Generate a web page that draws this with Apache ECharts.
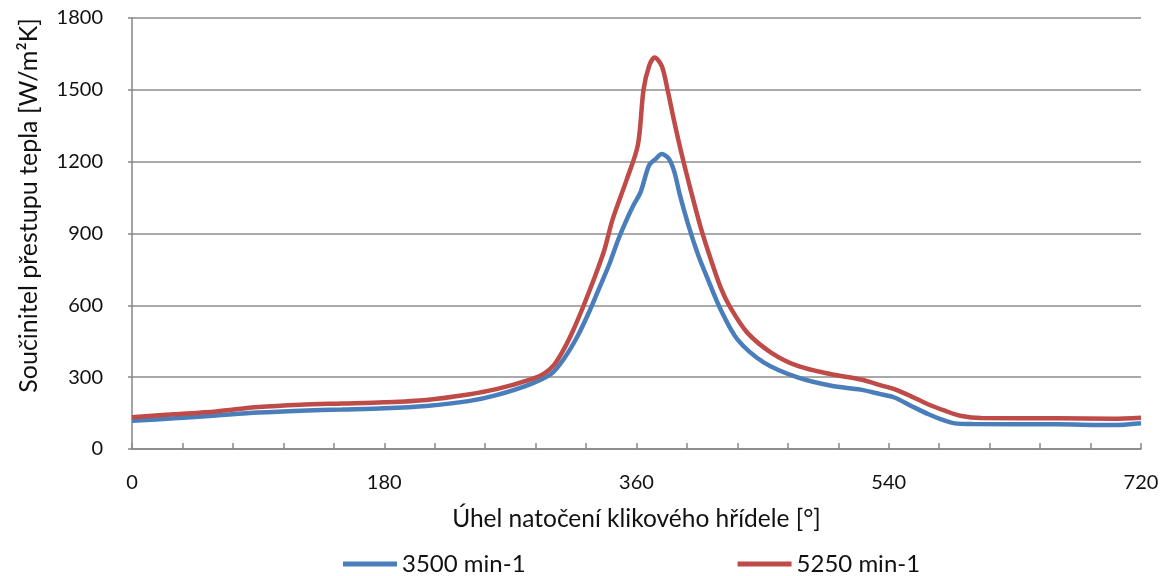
<!DOCTYPE html>
<html>
<head>
<meta charset="utf-8">
<script src="https://cdn.jsdelivr.net/npm/echarts@6/dist/echarts.min.js"></script>
<style>
    html, body {margin: 0; padding: 0; background: #fff;}
    #chart {width: 1165px; height: 576px;}
</style>
</head>
<body>
<div id="chart"></div>
<script>
/* Crank angle [deg] and heat transfer coefficient [W/m2K]. */
var blueAngles = [0, 30, 60, 90, 120, 150, 180, 210, 240, 260, 284, 299, 308, 318, 327, 334, 341, 347, 353, 358, 363, 369, 374, 378, 383, 387, 391, 397, 404, 410, 420, 432, 451, 475, 499, 520, 534, 544, 556, 568, 580, 587, 600, 660, 700, 720];
var blueValues = [118, 128, 140, 152, 160, 165, 170, 180, 200, 225, 270, 313, 375, 472, 583, 680, 778, 875, 958, 1020, 1074, 1185, 1213, 1232, 1213, 1157, 1060, 935, 810, 722, 583, 458, 361, 299, 264, 248, 229, 215, 180, 146, 118, 107, 104, 103, 100, 108];

var redAngles = [0, 30, 60, 90, 120, 150, 180, 210, 240, 260, 284, 294, 301, 308, 315, 322, 330, 337, 343, 353, 361, 365, 369, 373, 378, 382, 387, 393, 399, 406, 412, 420, 427, 439, 456, 475, 499, 520, 535, 544, 556, 568, 580, 591, 606, 660, 700, 720];
var redValues = [133, 145, 157, 175, 185, 190, 195, 205, 228, 250, 290, 315, 350, 415, 498, 595, 715, 830, 960, 1125, 1270, 1500, 1600, 1635, 1600, 1505, 1366, 1213, 1074, 921, 810, 675, 590, 486, 403, 347, 312, 290, 265, 250, 220, 187, 160, 139, 129, 128, 126, 130];

var seriesNames = ['3500 min-1', '5250 min-1'];
var seriesColors = ['#4a7ebb', '#be4b48'];
var xTitle = 'Úhel natočení klikového hřídele [°]';
var yTitle = 'Součinitel přestupu tepla [W/m²K]';

var FONT = 'Lato';

function zip(xs, ys)
{
    return xs.map(function(x, i) {return [x, ys[i]];});
}

var chart = echarts.init(document.getElementById('chart'));

chart.setOption({
    animation: false,
    textStyle: {fontFamily: FONT, color: '#111'},
    grid: {left: 132, right: 24, top: 18, bottom: 127},
    xAxis: {
        type: 'value',
        min: 0,
        max: 720,
        interval: 36,
        name: xTitle,
        nameLocation: 'middle',
        nameGap: 58,
        nameTextStyle: {fontFamily: FONT, fontSize: 24.5, color: '#111'},
        axisLine: {lineStyle: {color: '#868686', width: 1.5}},
        axisTick: {inside: true, length: 6, lineStyle: {color: '#868686', width: 1.5}},
        axisLabel: {
            margin: 24,
            fontSize: 20,
            color: '#111',
            formatter: function(v) {return v % 180 === 0 ? String(v) : '';}
        },
        splitLine: {show: false}
    },
    yAxis: {
        type: 'value',
        min: 0,
        max: 1800,
        interval: 300,
        axisLine: {show: true, lineStyle: {color: '#868686', width: 1.5}},
        axisTick: {show: true, length: 4, lineStyle: {color: '#868686', width: 1.5}},
        axisLabel: {margin: 29, fontSize: 20, color: '#111', formatter: function(v) {return String(v);}},
        splitLine: {lineStyle: {color: '#8c8c8c', width: 1.5}}
    },
    legend: {
        left: 338,
        top: 547,
        itemGap: 212,
        itemWidth: 54,
        itemHeight: 5,
        icon: 'rect',
        textStyle: {fontFamily: FONT, fontSize: 24, color: '#111'},
        data: seriesNames
    },
    graphic: [{
        type: 'text',
        left: 16,
        top: 18,
        rotation: Math.PI / 2,
        style: {text: yTitle, font: '25px ' + FONT, fill: '#111'}
    }],
    series: [
        {
            name: seriesNames[0],
            type: 'line',
            data: zip(blueAngles, blueValues),
            smooth: 0.3,
            showSymbol: false,
            lineStyle: {color: seriesColors[0], width: 4.5},
            itemStyle: {color: seriesColors[0]}
        },
        {
            name: seriesNames[1],
            type: 'line',
            data: zip(redAngles, redValues),
            smooth: 0.3,
            showSymbol: false,
            lineStyle: {color: seriesColors[1], width: 4.5},
            itemStyle: {color: seriesColors[1]}
        }
    ]
});
</script>
</body>
</html>
